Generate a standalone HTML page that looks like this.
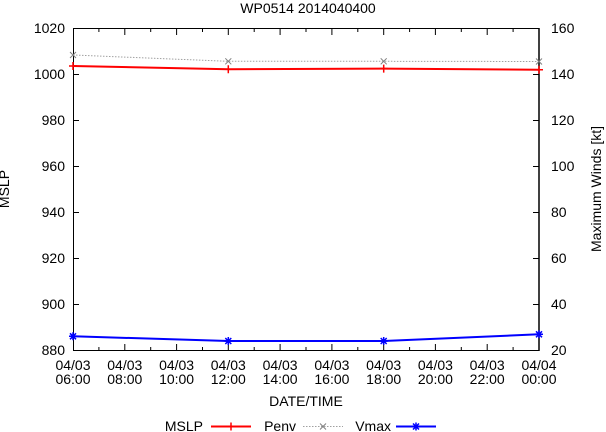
<!DOCTYPE html>
<html><head><meta charset="utf-8"><style>
html,body{margin:0;padding:0;background:#fff;}
svg{display:block;}
text{font-family:"Liberation Sans",Arial,sans-serif;font-size:14px;fill:#000;}
</style></head><body>
<svg width="606" height="432" viewBox="0 0 606 432" xmlns="http://www.w3.org/2000/svg">
<rect width="606" height="432" fill="#fff"/>
<text x="308" y="13" text-anchor="middle">WP0514 2014040400</text>
<g stroke="#000" stroke-width="1" fill="none">
<path d="M73.5,28.5 H539 V350.5 H73.5 Z"/>
<path d="M539,28 V351" stroke-width="1.5"/>
<!-- left y ticks -->
<path d="M73,74.5 h6 M73,120.5 h6 M73,166.5 h6 M73,212.5 h6 M73,258.5 h6 M73,304.5 h6"/>
<!-- right y ticks -->
<path d="M539,74.5 h-6 M539,120.5 h-6 M539,166.5 h-6 M539,212.5 h-6 M539,258.5 h-6 M539,304.5 h-6"/>
<!-- x major ticks bottom & top -->
<path d="M124.8,350 v-6 M176.6,350 v-6 M228.3,350 v-6 M280.1,350 v-6 M331.9,350 v-6 M383.7,350 v-6 M435.4,350 v-6 M487.2,350 v-6"/>
<path d="M124.8,29 v6 M176.6,29 v6 M228.3,29 v6 M280.1,29 v6 M331.9,29 v6 M383.7,29 v6 M435.4,29 v6 M487.2,29 v6"/>
<!-- x minor ticks -->
<path d="M98.9,350 v-3 M150.7,350 v-3 M202.5,350 v-3 M254.2,350 v-3 M306,350 v-3 M357.8,350 v-3 M409.6,350 v-3 M461.3,350 v-3 M513.1,350 v-3"/>
<path d="M98.9,29 v3 M150.7,29 v3 M202.5,29 v3 M254.2,29 v3 M306,29 v3 M357.8,29 v3 M409.6,29 v3 M461.3,29 v3 M513.1,29 v3"/>
</g>
<!-- left labels -->
<g text-anchor="end">
<text x="65" y="33">1020</text>
<text x="65" y="79">1000</text>
<text x="65" y="125">980</text>
<text x="65" y="171">960</text>
<text x="65" y="217">940</text>
<text x="65" y="263">920</text>
<text x="65" y="309">900</text>
<text x="65" y="355">880</text>
</g>
<g text-anchor="start">
<text x="551" y="33">160</text>
<text x="551" y="79">140</text>
<text x="551" y="125">120</text>
<text x="551" y="171">100</text>
<text x="551" y="217">80</text>
<text x="551" y="263">60</text>
<text x="551" y="309">40</text>
<text x="551" y="355">20</text>
</g>
<g text-anchor="middle">
<text x="73" y="370">04/03</text><text x="73" y="384">06:00</text>
<text x="124.8" y="370">04/03</text><text x="124.8" y="384">08:00</text>
<text x="176.6" y="370">04/03</text><text x="176.6" y="384">10:00</text>
<text x="228.3" y="370">04/03</text><text x="228.3" y="384">12:00</text>
<text x="280.1" y="370">04/03</text><text x="280.1" y="384">14:00</text>
<text x="331.9" y="370">04/03</text><text x="331.9" y="384">16:00</text>
<text x="383.7" y="370">04/03</text><text x="383.7" y="384">18:00</text>
<text x="435.4" y="370">04/03</text><text x="435.4" y="384">20:00</text>
<text x="487.2" y="370">04/03</text><text x="487.2" y="384">22:00</text>
<text x="539" y="370">04/04</text><text x="539" y="384">00:00</text>
<text x="306" y="406">DATE/TIME</text>
</g>
<text transform="translate(9,189) rotate(-90)" text-anchor="middle">MSLP</text>
<text transform="translate(601,189) rotate(-90)" text-anchor="middle">Maximum Winds [kt]</text>
<!-- series -->
<polyline points="73,55 228.3,61.3 383.7,61.3 539,61.5" fill="none" stroke="#a0a0a0" stroke-width="1" stroke-dasharray="1.5,1.5"/>
<g stroke="#808080" stroke-width="1">
<path d="M70,52 l6,6 M76,52 l-6,6"/>
<path d="M225.3,58.3 l6,6 M231.3,58.3 l-6,6"/>
<path d="M380.7,58.3 l6,6 M386.7,58.3 l-6,6"/>
<path d="M536,58.5 l6,6 M542,58.5 l-6,6"/>
</g>
<polyline points="73,66 228.3,69.3 383.7,68.6 539,69.7" fill="none" stroke="#ff0000" stroke-width="2"/>
<g stroke="#ff0000" stroke-width="1.5">
<path d="M69,66 h8 M73,62 v8"/>
<path d="M224.3,69.3 h8 M228.3,65.3 v8"/>
<path d="M379.7,68.6 h8 M383.7,64.6 v8"/>
<path d="M535,69.7 h8 M539,65.7 v8"/>
</g>
<polyline points="73,336.3 228.3,341 383.7,341 539,334.3" fill="none" stroke="#0000ff" stroke-width="2"/>
<g stroke="#0000ff" stroke-width="1.5">
<path d="M69,336.3 h8 M73,332.3 v8 M70,333.3 l6,6 M76,333.3 l-6,6"/>
<path d="M224.3,341 h8 M228.3,337 v8 M225.3,338 l6,6 M231.3,338 l-6,6"/>
<path d="M379.7,341 h8 M383.7,337 v8 M380.7,338 l6,6 M386.7,338 l-6,6"/>
<path d="M535,334.3 h8 M539,330.3 v8 M536,331.3 l6,6 M542,331.3 l-6,6"/>
</g>
<!-- legend -->
<g text-anchor="end">
<text x="203" y="431">MSLP</text>
<text x="296" y="431">Penv</text>
<text x="391" y="431">Vmax</text>
</g>
<path d="M211,426.5 H251" stroke="#ff0000" stroke-width="2"/>
<path d="M227,426.5 h8 M231,422.5 v8" stroke="#ff0000" stroke-width="1.5"/>
<path d="M303,426.5 H343" stroke="#a0a0a0" stroke-width="1" stroke-dasharray="1.5,1.5"/>
<path d="M320,423.5 l6,6 M326,423.5 l-6,6" stroke="#808080" stroke-width="1"/>
<path d="M396,426.5 H436" stroke="#0000ff" stroke-width="2"/>
<path d="M412,426.5 h8 M416,422.5 v8 M413,423.5 l6,6 M419,423.5 l-6,6" stroke="#0000ff" stroke-width="1.5"/>
</svg>
</body></html>
